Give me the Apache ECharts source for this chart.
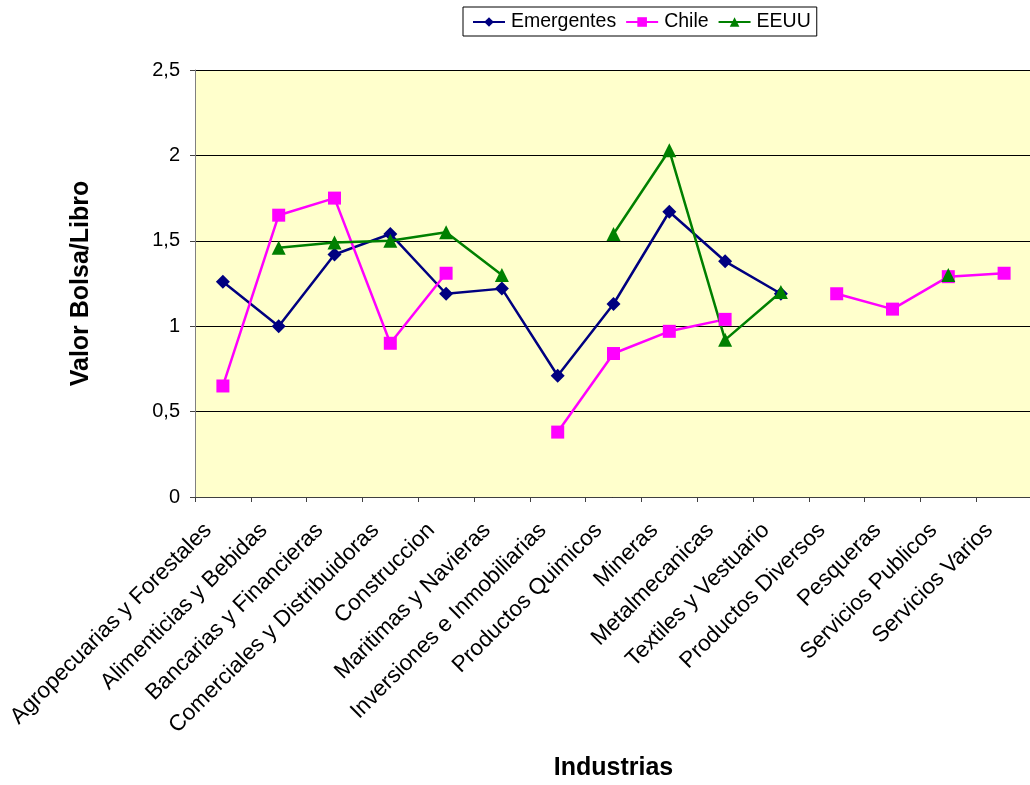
<!DOCTYPE html>
<html>
<head>
<meta charset="utf-8">
<script src="https://cdn.jsdelivr.net/npm/echarts@6/dist/echarts.min.js"></script>
<style>
html,body{margin:0;padding:0;background:#fff;}
#chart{width:1030px;height:785px;}
</style>
</head>
<body>
<div id="chart"></div>
<script>
const categories = [
  "Agropecuarias y Forestales", "Alimenticias y Bebidas", "Bancarias y Financieras",
  "Comerciales y Distribuidoras", "Construccion", "Maritimas y Navieras",
  "Inversiones e Inmobiliarias", "Productos Quimicos", "Mineras", "Metalmecanicas",
  "Textiles y Vestuario", "Productos Diversos", "Pesqueras", "Servicios Publicos", "Servicios Varios"
];
const emergentes = [1.26, 1.00, 1.42, 1.54, 1.19, 1.22, 0.71, 1.13, 1.67, 1.38, 1.19, null, null, null, null];
const chile      = [0.65, 1.65, 1.75, 0.90, 1.31, null, 0.38, 0.84, 0.97, 1.04, null, 1.19, 1.10, 1.29, 1.31];
const eeuu       = [null, 1.46, 1.49, 1.50, 1.55, 1.30, null, 1.54, 2.03, 0.92, 1.20, null, null, 1.30, null];
const yTicks = { min: 0, max: 2.5, interval: 0.5 };

const FONT = "Liberation Sans, Arial, sans-serif";
const chart = echarts.init(document.getElementById('chart'), null, { renderer: 'canvas' });
chart.setOption({
  animation: false,
  backgroundColor: '#ffffff',
  textStyle: { fontFamily: FONT, color: '#000' },
  legend: {
    left: 463, top: 7,
    backgroundColor: '#ffffff',
    borderColor: '#000000', borderWidth: 1,
    padding: [5, 6, 4, 9],
    itemGap: 9, itemWidth: 32, itemHeight: 12,
    textStyle: { fontFamily: FONT, fontSize: 19.5, color: '#000', padding: [0, 0, 0, 1] },
    data: ['Emergentes', 'Chile', 'EEUU']
  },
  grid: {
    left: 195, top: 70, width: 837, height: 427,
    outerBoundsMode: 'none',
    containLabel: false,
    show: true, backgroundColor: '#FFFFCC', borderWidth: 0
  },
  xAxis: {
    type: 'category',
    data: categories,
    boundaryGap: true,
    name: 'Industrias',
    nameLocation: 'middle',
    nameGap: 259,
    nameTextStyle: { fontFamily: FONT, fontSize: 25, fontWeight: 'bold', color: '#000' },
    axisLine: { lineStyle: { color: '#404040', width: 1 } },
    axisTick: { show: true, length: 5, lineStyle: { color: '#404040' } },
    axisLabel: {
      rotate: 45, interval: 0, margin: 15, fontFamily: FONT, fontSize: 22.5, color: '#000',
      padding: [0, 21, 0, 0]
    },
    splitLine: { show: false }
  },
  yAxis: {
    type: 'value',
    min: yTicks.min, max: yTicks.max, interval: yTicks.interval,
    name: 'Valor Bolsa/Libro',
    nameLocation: 'middle',
    nameRotate: 90,
    nameGap: 101,
    nameTextStyle: { fontFamily: FONT, fontSize: 25, fontWeight: 'bold', color: '#000' },
    axisLine: { show: true, lineStyle: { color: '#808080', width: 1 } },
    axisTick: { show: true, length: 5, lineStyle: { color: '#404040' } },
    axisLabel: {
      margin: 15, fontFamily: FONT, fontSize: 20, color: '#000',
      formatter: v => String(v).replace('.', ',')
    },
    splitLine: { show: true, lineStyle: { color: '#000000', width: 1 } }
  },
  series: [
    {
      name: 'Emergentes', type: 'line', data: emergentes, connectNulls: false,
      symbol: 'diamond', symbolSize: 14, showSymbol: true,
      lineStyle: { color: '#000080', width: 2.5 },
      itemStyle: { color: '#000080' }
    },
    {
      name: 'Chile', type: 'line', data: chile, connectNulls: false,
      symbol: 'rect', symbolSize: 13, showSymbol: true,
      lineStyle: { color: '#FF00FF', width: 2.5 },
      itemStyle: { color: '#FF00FF' }
    },
    {
      name: 'EEUU', type: 'line', data: eeuu, connectNulls: false,
      symbol: 'triangle', symbolSize: 14, showSymbol: true,
      lineStyle: { color: '#008000', width: 2.5 },
      itemStyle: { color: '#008000' }
    }
  ]
});
</script>
</body>
</html>
